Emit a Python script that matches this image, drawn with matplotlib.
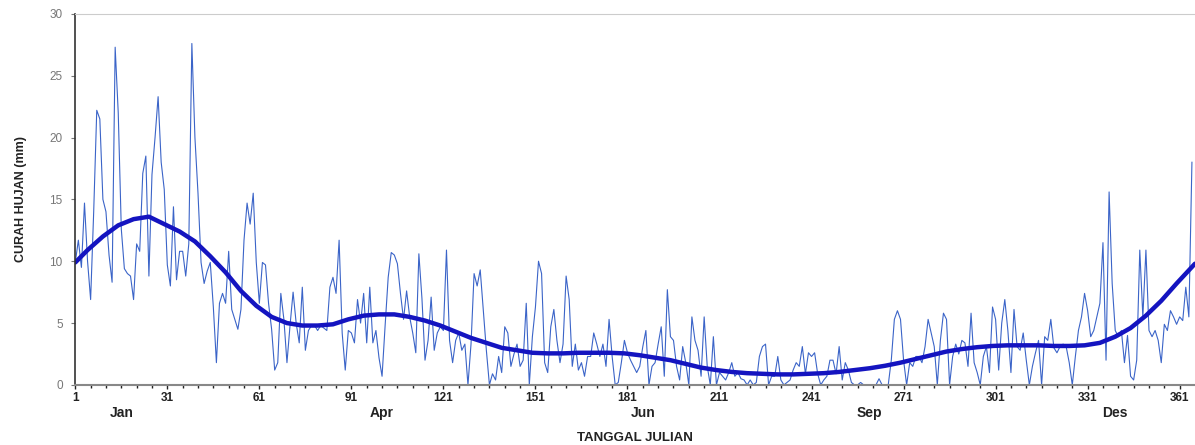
import numpy as np
import matplotlib.pyplot as plt

# daily rainfall (mm), day 1..365
rain = [
    9.9, 11.7, 9.5, 14.7, 10.0, 6.9, 14.0, 22.2, 21.5, 15.0,
    14.0, 10.5, 8.3, 27.3, 22.0, 12.6, 9.4, 9.0, 8.8, 6.9,
    11.4, 10.8, 17.1, 18.5, 8.8, 17.0, 20.0, 23.3, 18.0, 15.8,
    9.7, 8.0, 14.4, 8.5, 10.8, 10.8, 8.8, 11.4, 27.6, 20.0,
    15.5, 9.9, 8.2, 9.2, 9.9, 6.3, 1.8, 6.6, 7.4, 6.6,
    10.8, 6.1, 5.3, 4.5, 6.1, 11.7, 14.7, 13.0, 15.5, 9.9,
    6.6, 9.9, 9.7, 6.6, 4.5, 1.2, 1.8, 7.4, 5.3, 1.8,
    4.8, 7.5, 5.0, 3.4, 7.9, 2.8, 4.4, 4.8, 4.8, 4.4,
    4.8, 4.6, 4.4, 7.9, 8.7, 7.4, 11.7, 4.2, 1.2, 4.4,
    4.2, 3.4, 6.9, 5.0, 7.4, 3.4, 7.9, 3.4, 4.4, 2.2,
    0.7, 4.8, 8.7, 10.7, 10.5, 9.8, 7.4, 5.3, 7.6, 5.5,
    4.2, 2.6, 10.6, 7.0, 2.0, 3.6, 7.1, 2.8, 4.2, 4.7,
    4.4, 10.9, 3.6, 1.8, 3.6, 4.2, 2.8, 3.3, 0.0, 3.3,
    9.0, 8.0, 9.3, 6.0, 2.8, 0.0, 0.9, 0.4, 2.3, 1.0,
    4.7, 4.2, 1.5, 2.5, 3.3, 1.5, 2.0, 6.6, 0.0, 3.9,
    6.3, 10.0, 9.0, 1.8, 1.0, 4.7, 6.1, 3.6, 1.8, 3.3,
    8.8, 6.9, 1.5, 3.3, 1.2, 1.8, 0.7, 2.3, 2.3, 4.2,
    3.3, 2.3, 3.3, 1.5, 5.3, 2.3, 0.0, 0.2, 1.8, 3.6,
    2.6, 2.0, 1.5, 1.0, 1.5, 3.1, 4.4, 0.0, 1.5, 1.8,
    3.3, 4.7, 0.7, 7.7, 3.9, 3.6, 1.5, 0.4, 3.1, 1.8,
    0.0, 5.5, 3.6, 2.8, 0.7, 5.5, 1.5, 0.0, 3.9, 0.0,
    1.0, 0.7, 0.4, 1.0, 1.8, 0.7, 1.0, 0.5, 0.4, 0.0,
    0.4, 0.0, 0.2, 2.3, 3.1, 3.3, 0.0, 0.7, 0.7, 2.3,
    0.4, 0.0, 0.2, 0.4, 1.2, 1.8, 1.5, 3.1, 0.9, 2.6,
    2.3, 2.6, 0.9, 0.0, 0.4, 0.7, 2.0, 2.0, 0.9, 3.1,
    0.4, 1.8, 1.2, 0.2, 0.0, 0.0, 0.2, 0.0, 0.0, 0.0,
    0.0, 0.0, 0.5, 0.0, 0.0, 0.0, 2.0, 5.3, 6.0, 5.3,
    2.0, 0.0, 1.8, 1.5, 2.3, 2.3, 1.8, 3.1, 5.3, 4.2,
    3.1, 0.0, 3.6, 5.8, 5.3, 0.0, 2.3, 3.3, 2.5, 3.6,
    3.4, 1.5, 5.8, 1.8, 1.0, 0.0, 2.3, 3.1, 1.0, 6.3,
    5.3, 1.2, 5.0, 6.9, 4.4, 1.0, 6.1, 3.1, 2.8, 4.2,
    2.0, 0.0, 1.5, 2.6, 3.6, 0.0, 3.9, 3.6, 5.3, 3.0,
    2.6, 3.1, 3.3, 3.1, 1.8, 0.0, 2.3, 4.4, 5.5, 7.4,
    6.0, 3.9, 4.4, 5.5, 6.6, 11.5, 2.0, 15.6, 8.2, 4.4,
    3.9, 4.4, 1.8, 4.0, 0.7, 0.4, 2.0, 10.9, 5.5, 10.9,
    4.4, 3.9, 4.4, 3.6, 1.8, 4.9, 4.4, 6.0, 5.5, 4.9,
    5.5, 5.2, 7.9, 5.5, 18.0,
]
days = np.arange(1, len(rain) + 1)

# smoothed seasonal curve, read every 5 days
smooth_days = [1, 5, 10, 15, 20, 25, 30, 35, 40, 45, 50, 55, 60, 65, 70, 75,
               80, 85, 90, 95, 100, 105, 110, 115, 120, 125, 130, 135, 140,
               145, 150, 155, 160, 165, 170, 175, 180, 185, 190, 195, 200,
               205, 210, 215, 220, 225, 230, 235, 240, 245, 250, 255, 260,
               265, 270, 275, 280, 285, 290, 295, 300, 305, 310, 315, 320,
               325, 330, 335, 340, 345, 350, 355, 360, 366]
smooth_vals = [9.9, 10.9, 12.0, 12.9, 13.4, 13.6, 13.0, 12.4, 11.6, 10.4,
               9.1, 7.6, 6.4, 5.5, 5.0, 4.8, 4.8, 4.9, 5.3, 5.6, 5.7, 5.7,
               5.5, 5.2, 4.8, 4.3, 3.8, 3.4, 3.0, 2.8, 2.6, 2.55, 2.55, 2.6,
               2.6, 2.6, 2.55, 2.4, 2.2, 2.0, 1.7, 1.4, 1.2, 1.05, 0.95, 0.9,
               0.85, 0.85, 0.9, 0.95, 1.05, 1.2, 1.35, 1.55, 1.8, 2.1, 2.4,
               2.7, 2.9, 3.05, 3.15, 3.2, 3.2, 3.2, 3.15, 3.15, 3.2, 3.4, 3.9,
               4.6, 5.6, 6.8, 8.2, 9.8]

month_names = ['Jan', 'Apr', 'Jun', 'Sep', 'Des']
month_days = [16, 101, 186, 260, 340]

plt.rcParams['font.family'] = ['Liberation Sans', 'DejaVu Sans']

fig = plt.figure(figsize=(11.95, 4.45), dpi=100)
ax = fig.add_axes([0.063, 0.135, 0.937, 0.834])

ax.plot(days, rain, color='#3b64c8', lw=0.8)
ax.plot(smooth_days, smooth_vals, color='#1414c0', lw=3.2, solid_capstyle='round')

ax.set_xlim(1, 366)
ax.set_ylim(0, 30)
ax.set_xticks(np.arange(1, 362, 30))
ax.set_xticks(np.arange(1, 366, 5), minor=True)
ax.set_yticks([0, 5, 10, 15, 20, 25, 30])

ax.tick_params(axis='x', which='major', length=3, width=1, labelsize=8.5,
               pad=2, colors='#222222')
ax.tick_params(axis='x', which='minor', length=2, width=1, color='#222222')
ax.tick_params(axis='y', length=3, width=0.8, labelsize=8.5, colors='#777777',
               pad=6)
for lbl in ax.get_xticklabels():
    lbl.set_fontweight('bold')

ax.spines['right'].set_visible(False)
ax.spines['top'].set_color('#cccccc')
ax.spines['left'].set_color('#333333')
ax.spines['left'].set_linewidth(1.2)
ax.spines['bottom'].set_color('#888888')
ax.spines['bottom'].set_linewidth(1.5)

for name, d in zip(month_names, month_days):
    ax.text(d, -0.057, name, transform=ax.get_xaxis_transform(),
            ha='center', va='top', fontsize=10, fontweight='bold', color='#222222')

ax.set_xlabel('TANGGAL JULIAN', fontsize=9.5, fontweight='bold', color='#222222',
              labelpad=20)
ax.set_ylabel('CURAH HUJAN (mm)', fontsize=9, fontweight='bold',
              family=['Liberation Sans Narrow', 'Liberation Sans'],
              color='#222222', labelpad=16)

fig.savefig('out.png', dpi=100)
